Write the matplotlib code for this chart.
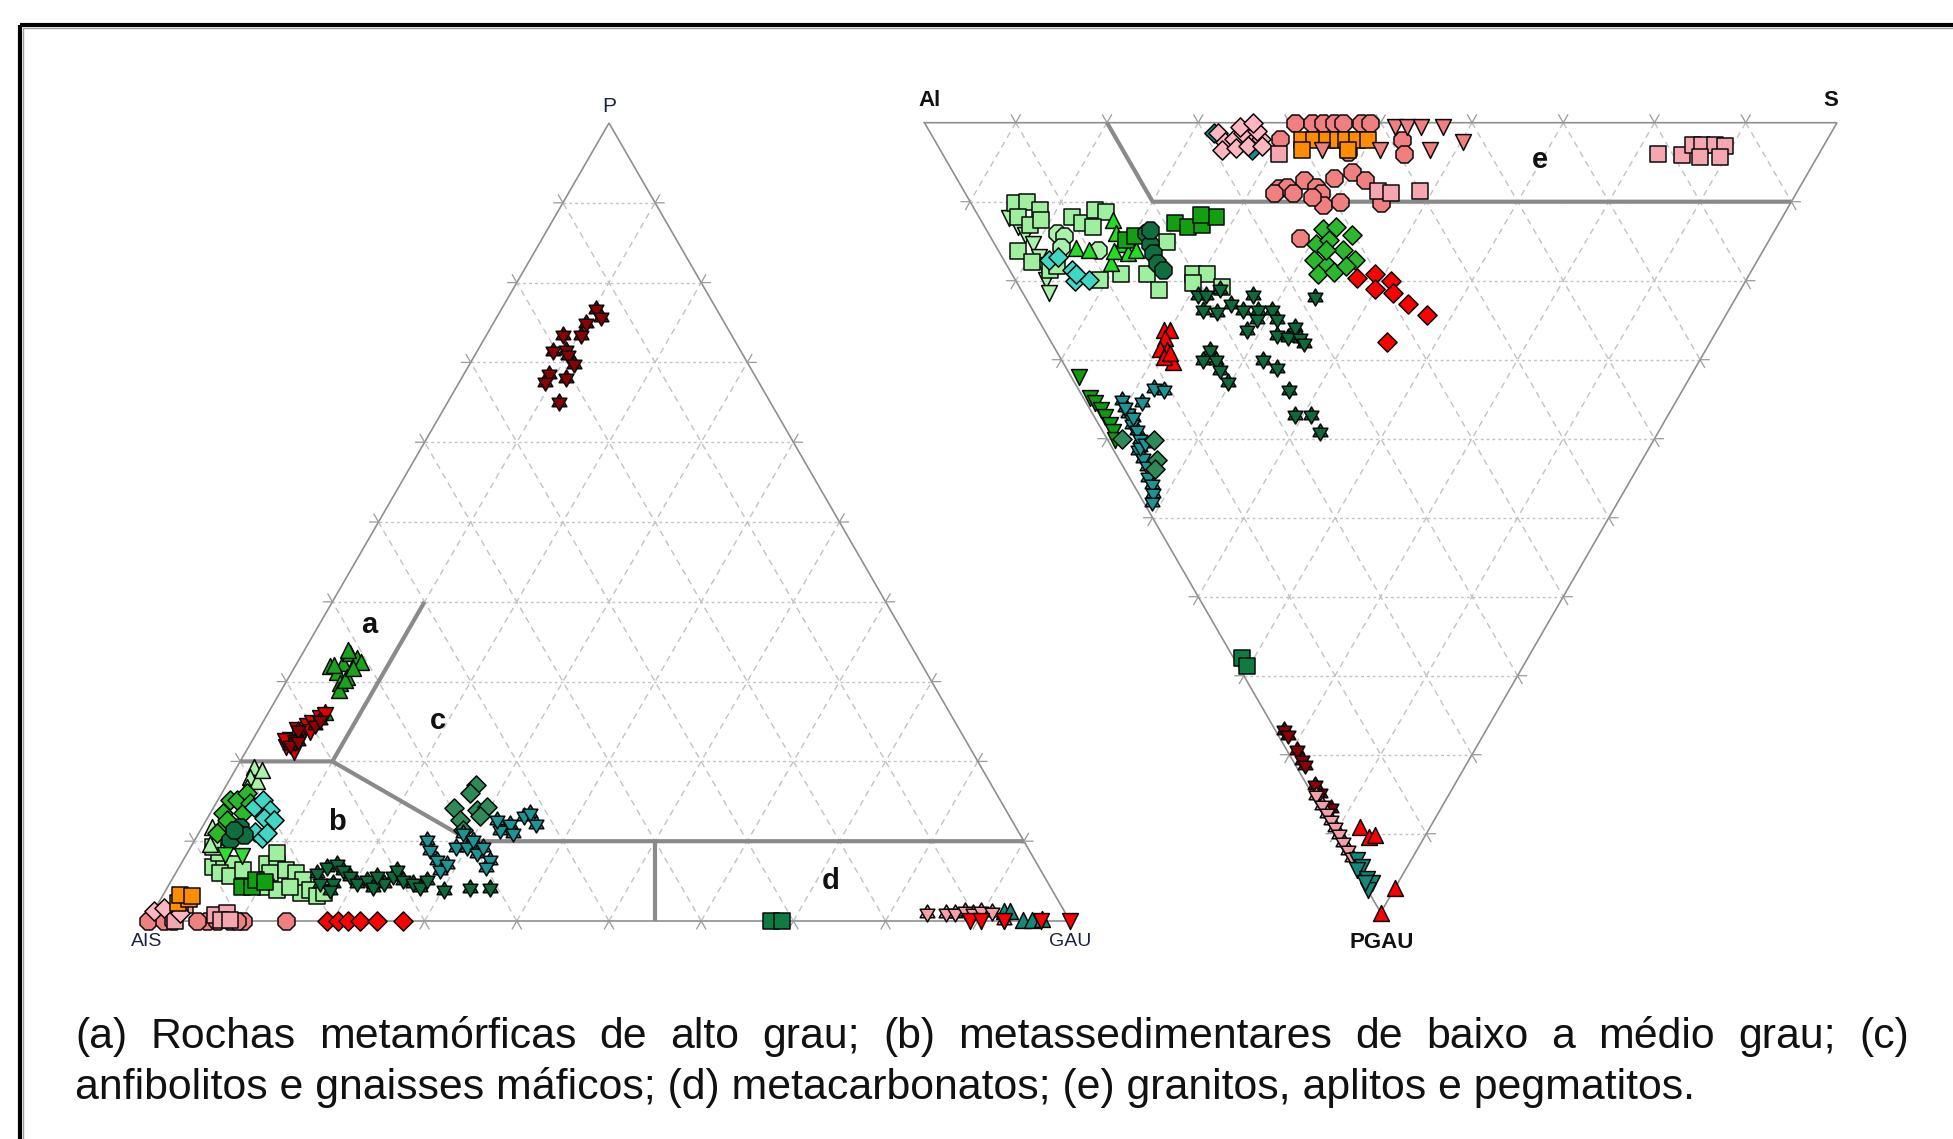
import numpy as np
import matplotlib
matplotlib.use("Agg")
import matplotlib.pyplot as plt
from matplotlib.path import Path
from matplotlib.patches import Rectangle

plt.rcParams['font.family'] = ['Liberation Sans', 'DejaVu Sans']

# ======================= DATA =======================
# Left diagram (P - AIS - GAU): pairs (P %, GAU %), AIS = 100 - P - GAU
L_darkred_star = [(76.7, 10.2), (75.7, 11.3), (74.9, 10.1), (73.4, 10.3), (73.4, 8.3), (71.4, 8.2),
                  (71.6, 9.5), (70.9, 10.1), (69.8, 11.3), (68.5, 9.2), (67.6, 9.3), (68.1, 11.3), (65.0, 12.1)]
L_darkred_star_a = [(22.0, 4.4), (23.9, 4.3), (24.6, 5.8), (22.6, 5.0), (25.2, 6.1)]
L_red_tri_down = [(21.8, 4.1), (21.2, 5.2), (22.7, 4.1), (23.1, 4.9), (23.9, 4.2), (24.4, 5.0), (23.5, 5.1),
                  (24.8, 5.4), (25.4, 6.0), (25.8, 6.3), (23.7, 5.7), (22.5, 3.6), (22.3, 4.8)]
L_green_tri_up = [(31.9, 3.8), (31.2, 4.9), (32.3, 5.0), (33.6, 5.1), (32.9, 6.2), (32.5, 6.8), (30.6, 6.3),
                  (29.8, 5.9), (29.0, 6.2), (30.2, 6.3), (31.7, 6.4), (32.1, 4.1), (34.0, 4.7), (26.2, 6.1)]
L_lightgreen_tri_up = [(19.3, 1.9), (18.1, 2.0), (17.5, 3.1), (16.8, 2.3), (11.8, 1.0), (9.7, 1.9), (18.9, 2.9)]
L_green_diamond = [(11.4, 2.1), (15.2, 1.3), (15.2, 2.0), (13.5, 3.6), (13.5, 1.4), (12.7, 2.2), (16.0, 2.7),
                   (11.0, 2.0), (14.8, 3.7)]
L_cyan_diamond = [(14.3, 4.3), (15.2, 4.9), (13.9, 6.3), (12.9, 6.1), (12.7, 7.3), (11.2, 6.0), (10.4, 7.2), (11.0, 7.4)]
L_darkgreen_circle = [(11.8, 4.1), (11.0, 4.1), (10.2, 3.8), (10.8, 5.0), (11.4, 3.6)]
L_lightgreen_square = [(6.8, 3.7), (7.2, 4.6), (7.2, 5.6), (6.0, 4.8), (5.6, 6.1), (6.4, 7.1), (7.2, 9.3), (7.2, 10.4),
                       (6.0, 10.2), (4.3, 10.7), (3.9, 12.0), (6.4, 11.8), (6.0, 13.1), (5.1, 14.3), (3.5, 14.8),
                       (3.9, 15.6), (3.1, 16.8), (3.5, 17.3), (4.3, 13.3), (8.5, 3.4), (9.3, 2.4), (8.5, 9.7)]
L_green_square = [(4.3, 8.0), (4.3, 9.1), (5.1, 9.2), (4.9, 10.2)]
L_brightgreen_tri_down = [(8.3, 4.2), (8.1, 6.1)]
L_darkgreen_star = [(6.0, 15.3), (6.8, 16.0), (7.2, 16.9), (6.4, 18.0), (5.6, 19.1), (4.7, 17.7), (4.7, 20.3),
                    (5.1, 21.2), (4.3, 22.3), (4.7, 23.2), (5.6, 23.8), (6.4, 23.8), (5.1, 25.1), (4.7, 26.4),
                    (4.3, 27.4), (5.1, 27.7), (3.9, 30.1), (4.1, 32.9), (4.1, 35.0), (4.7, 16.3), (3.9, 17.8), (5.6, 22.0)]
L_teal_star = [(10.2, 25.2), (8.9, 26.1), (7.6, 27.5), (6.4, 28.5), (7.2, 28.8), (9.3, 28.8), (9.3, 29.9), (8.5, 31.4),
               (9.3, 31.7), (7.6, 33.3), (6.8, 33.3), (11.0, 28.7), (11.4, 32.5), (12.2, 33.2), (13.1, 34.2),
               (13.5, 34.7), (12.2, 36.0), (11.0, 34.1), (12.7, 31.5), (10.2, 30.2)]
L_seagreen_diamond = [(17.0, 27.1), (16.0, 26.9), (14.1, 26.1), (12.7, 27.5), (13.9, 28.7), (14.3, 29.6),
                      (11.4, 28.5), (13.1, 29.5)]
L_orange_square = [(2.2, 2.2), (2.8, 3.0), (3.3, 1.8), (3.1, 3.2)]
L_pink_square = [(2.0, 3.0), (2.2, 2.4), (0.8, 6.9), (1.0, 8.1), (0.1, 7.9), (0.1, 8.8), (0.0, 2.9)]
L_salmon_circle = [(0.0, 0.0), (0.0, 1.7), (0.0, 2.7), (0.0, 6.4), (0.0, 7.5), (0.0, 8.9), (0.0, 10.3),
                   (0.0, 15.0), (0.0, 9.6), (0.0, 5.3)]
L_pink_diamond = [(1.2, 0.0), (1.6, 0.9), (1.0, 3.0)]
L_red_diamond = [(0.0, 19.4), (0.0, 20.6), (0.0, 21.7), (0.0, 23.0), (0.0, 24.8), (0.0, 27.7)]
L_darkgreen_square = [(0.0, 67.6), (0.0, 68.8)]
L_pink_star = [(1.0, 84.0), (1.0, 86.0), (1.0, 87.0), (1.2, 88.0), (1.0, 89.0), (1.2, 89.8), (1.1, 91.0), (0.1, 92.8)]
L_teal_tri_up = [(1.2, 92.2), (1.2, 92.9), (0.1, 94.9), (0.1, 95.8), (0.3, 96.8)]
L_red_tri_down_g = [(0.0, 89.2), (0.0, 90.4), (0.0, 92.8), (0.0, 96.9), (0.0, 100.0)]

# Right diagram (Al - S - PGAU): pairs (S %, PGAU %), Al = 100 - S - PGAU
R_pink_diamond = [(31.5, 1.3), (31.7, 2.4), (32.9, 2.0), (34.2, 1.3), (34.7, 2.4), (35.9, 2.0), (35.9, 1.1),
                  (30.8, 3.5), (32.5, 3.2), (34.0, 3.0), (35.5, 3.0), (34.3, 0.5), (36.0, 0.1)]
R_teal_diamond = [(31.1, 1.3), (34.1, 3.5)]
R_salmon_circle = [(40.6, 0.0), (42.5, 0.0), (43.7, 0.0), (44.9, 0.0), (45.9, 0.0), (47.8, 0.0), (48.8, 0.0),
                   (38.0, 2.0), (51.2, 2.2), (50.6, 3.9), (44.6, 3.7), (34.7, 8.3), (35.7, 8.1), (37.9, 7.3),
                   (38.9, 8.1), (39.0, 8.9), (41.4, 7.0), (43.7, 6.2), (44.6, 7.3), (38.5, 10.4), (40.5, 10.0),
                   (37.8, 9.4), (35.9, 8.9), (33.9, 8.9), (44.9, 10.2), (33.8, 14.6)]
R_orange_square = [(40.3, 2.2), (41.6, 2.2), (43.0, 2.2), (44.2, 2.2), (45.1, 2.2), (46.3, 2.2), (47.5, 2.2),
                   (39.6, 3.5), (44.7, 3.5)]
R_salmon_tri_down = [(51.3, 0.5), (52.6, 0.5), (54.2, 0.5), (56.6, 0.5), (57.8, 2.4), (53.7, 3.5), (48.2, 3.5), (41.8, 3.5)]
R_pink_square = [(78.4, 3.9), (81.0, 4.1), (82.8, 2.8), (83.8, 2.8), (85.2, 2.8), (86.2, 3.0), (82.8, 4.3), (85.0, 4.3),
                 (45.4, 8.7), (46.7, 8.9), (49.9, 8.7), (36.9, 3.9)]
R_lightgreen_square = [(4.8, 10.2), (6.2, 10.0), (7.1, 11.1), (4.3, 11.9), (5.1, 13.0), (6.6, 12.3), (2.1, 16.3),
                       (3.0, 17.6), (4.4, 18.7), (5.4, 18.2), (10.2, 11.9), (10.9, 12.7), (13.1, 11.1), (14.2, 11.3),
                       (11.9, 13.2), (12.0, 19.1), (14.8, 19.1), (15.1, 21.2), (19.0, 15.1), (19.9, 19.1),
                       (21.4, 19.1), (22.2, 20.8), (19.3, 20.3), (9.3, 19.9)]
R_lightgreen_tri_down = [(3.2, 12.1), (3.7, 13.2), (3.9, 14.2), (4.2, 15.3), (4.1, 17.0), (4.0, 18.0), (3.4, 19.9), (2.8, 21.6)]
R_lightgreen_circle = [(7.5, 14.0), (8.1, 14.4), (11.0, 16.1), (7.1, 15.7)]
R_cyan_diamond = [(4.9, 17.4), (6.1, 17.0), (6.8, 18.7), (6.4, 20.1), (8.1, 19.9), (7.0, 19.1)]
R_green_tri_up = [(8.6, 15.9), (10.0, 16.1), (14.5, 12.3), (14.0, 14.0), (13.9, 15.3), (14.1, 16.5), (11.5, 17.8),
                  (12.6, 16.3), (15.1, 16.1)]
R_green_square = [(21.1, 12.7), (22.3, 13.2), (23.9, 13.0), (26.0, 11.9), (24.4, 11.7), (14.6, 14.9), (15.9, 14.4)]
R_darkgreen_circle = [(17.3, 14.0), (17.1, 15.3), (16.8, 16.5), (16.6, 17.8), (16.8, 18.7), (17.9, 13.6)]
R_green_diamond = [(37.0, 13.4), (38.5, 13.2), (39.7, 14.2), (35.3, 15.3), (36.9, 14.9), (37.8, 16.1), (38.5, 17.4),
                   (34.0, 17.4), (35.1, 18.0), (33.6, 19.1), (35.4, 18.9), (37.1, 18.2), (36.0, 16.1)]
R_red_diamond = [(37.6, 19.7), (39.8, 19.1), (41.1, 20.1), (38.9, 21.0), (40.5, 21.6), (41.5, 22.9), (42.9, 24.3), (36.8, 27.7)]
R_darkgreen_star = [(19.1, 21.8), (20.0, 21.8), (21.9, 21.0), (18.7, 23.7), (20.1, 23.9), (22.1, 22.9), (23.1, 23.7),
                    (25.1, 21.8), (24.7, 23.7), (24.0, 24.8), (22.2, 26.2), (26.2, 23.7), (26.2, 24.8), (25.2, 26.9),
                    (26.3, 27.1), (27.7, 25.8), (27.5, 27.3), (27.6, 27.9), (31.8, 22.0), (16.9, 28.8), (15.5, 30.0),
                    (17.0, 30.0), (16.7, 31.3), (16.9, 32.8), (22.1, 30.0), (23.1, 31.1), (23.0, 33.8), (22.1, 37.0),
                    (23.9, 37.0), (23.8, 39.1)]
R_red_tri_up = [(13.1, 26.2), (13.8, 26.2), (12.7, 27.3), (11.5, 28.6), (12.2, 28.8), (12.1, 30.3), (11.4, 29.6), (12.3, 29.2)]
R_green_tri_down = [(0.8, 32.2), (0.7, 34.9), (0.9, 35.5), (1.1, 36.4), (1.2, 37.2), (1.2, 38.3), (1.1, 39.1), (0.8, 40.2)]
R_teal_star = [(4.1, 35.1), (3.9, 36.8), (4.0, 36.0), (3.7, 38.1), (3.8, 38.9), (3.6, 40.0), (2.7, 41.4), (2.7, 42.5),
               (2.6, 43.5), (2.1, 44.8), (2.1, 45.7), (1.6, 46.9), (0.9, 48.0), (6.2, 35.3), (8.3, 33.6),
               (9.3, 33.8), (4.3, 37.2), (3.1, 41.0), (3.9, 40.6)]
R_seagreen_diamond = [(5.0, 40.2), (4.1, 42.7), (3.4, 43.8), (1.6, 40.0)]
R_darkgreen_square = [(0.9, 67.8), (0.9, 68.8)]
R_darkred_star = [(0.9, 76.9), (1.1, 77.5), (1.1, 79.4), (1.0, 80.7), (1.1, 81.3), (0.9, 83.8), (0.9, 84.9), (1.1, 86.8)]
R_pink_star = [(0.4, 85.1), (0.4, 86.4), (0.4, 87.4), (0.4, 88.3), (0.4, 89.1), (0.4, 90.0), (0.4, 91.0), (0.4, 92.1), (0.4, 92.9)]
R_teal_tri_down = [(0.7, 93.3), (0.8, 94.2), (0.1, 94.6), (0.6, 95.7), (0.9, 96.3), (0.1, 97.1), (0.1, 96.3)]
R_red_tri_up2 = [(3.2, 89.1), (3.5, 90.4), (4.3, 90.2), (3.1, 96.9), (0.0, 100.0)]

# field boundaries: left in (P %, GAU %), right in (S %, PGAU %)
left_boundaries = [[(20, 0), (20, 10), (40, 10)], [(20, 10), (10, 30), (10, 90)], [(10, 50), (0, 55)]]
right_boundaries = [[(20, 0), (20, 10), (90, 10)]]

left_vertex_labels = ["P", "AIS", "GAU"]
right_vertex_labels = ["Al", "S", "PGAU"]
caption_line1 = "(a) Rochas metamórficas de alto grau; (b) metassedimentares de baixo a médio grau; (c)"
caption_line2 = "anfibolitos e gnaisses máficos; (d) metacarbonatos; (e) granitos, aplitos e pegmatitos."

# ======================= LAYOUT =======================
W, H = 1953, 1139
fig = plt.figure(figsize=(W / 100, H / 100), dpi=100)
ax = fig.add_axes([0, 0, 1, 1])
ax.set_xlim(0, W)
ax.set_ylim(H, 0)
ax.axis('off')

# corner pixel positions: A (first), B, C
LEFT = {'A': (148.0, 921.0), 'B': (1070.0, 921.0), 'C': (609.0, 123.0)}     # AIS, GAU, P
RIGHT = {'A': (924.5, 122.7), 'B': (1837.0, 122.7), 'C': (1380.7, 912.7)}   # Al, S, PGAU


def bary(tri, a, b, c):
    A, B, C = tri['A'], tri['B'], tri['C']
    return (a * A[0] + b * B[0] + c * C[0], a * A[1] + b * B[1] + c * C[1])


def to_xy(tri, b, c):
    b = np.asarray(b, float) / 100.0
    c = np.asarray(c, float) / 100.0
    return bary(tri, 1 - b - c, b, c)


GRID_C = '#c2c2c2'
EDGE_C = '#8f8f8f'


def draw_frame(tri):
    for k in range(1, 10):
        f = k / 10
        p1 = bary(tri, 1 - f, 0, f); p2 = bary(tri, 0, 1 - f, f)
        ax.plot([p1[0], p2[0]], [p1[1], p2[1]], color=GRID_C, lw=1.0, dashes=(2, 2.2), zorder=1)
        p1 = bary(tri, 1 - f, f, 0); p2 = bary(tri, 0, f, 1 - f)
        ax.plot([p1[0], p2[0]], [p1[1], p2[1]], color=GRID_C, lw=1.0, dashes=(4.5, 3.5), zorder=1)
        p1 = bary(tri, f, 1 - f, 0); p2 = bary(tri, f, 0, 1 - f)
        ax.plot([p1[0], p2[0]], [p1[1], p2[1]], color=GRID_C, lw=1.0, dashes=(4.5, 3.5), zorder=1)
    A, B, C = [np.array(tri[k]) for k in 'ABC']
    ax.plot([A[0], B[0], C[0], A[0]], [A[1], B[1], C[1], A[1]], color=EDGE_C, lw=1.2, zorder=2,
            solid_joinstyle='miter')
    G = (A + B + C) / 3
    for P1, P2 in [(A, B), (B, C), (C, A)]:
        d = P2 - P1
        n = np.array([d[1], -d[0]]) / np.hypot(*d)
        mid = (P1 + P2) / 2
        if np.dot(n, mid - G) < 0:
            n = -n
        for k in range(1, 10):
            p = P1 + d * k / 10
            for ang in (np.pi / 6, -np.pi / 6):
                ca, sa = np.cos(ang), np.sin(ang)
                v = np.array([ca * n[0] - sa * n[1], sa * n[0] + ca * n[1]]) * 9
                ax.plot([p[0], p[0] + v[0]], [p[1], p[1] + v[1]], color='#9a9a9a', lw=0.9, zorder=2)


draw_frame(LEFT)
draw_frame(RIGHT)

for seg in left_boundaries:
    pg = np.array(seg, float)
    x, y = to_xy(LEFT, pg[:, 1], pg[:, 0])
    ax.plot(x, y, color='#8a8a8a', lw=3.0, zorder=2.5, solid_capstyle='butt')
for seg in right_boundaries:
    sp = np.array(seg, float)
    x, y = to_xy(RIGHT, sp[:, 0], sp[:, 1])
    ax.plot(x, y, color='#8a8a8a', lw=3.0, zorder=2.5, solid_capstyle='butt')

STAR_UP = Path([(0, 1), (-0.866, -0.5), (0.866, -0.5), (0, 1)],
               [Path.MOVETO, Path.LINETO, Path.LINETO, Path.CLOSEPOLY])
STAR_DN = Path([(0, -1), (-0.866, 0.5), (0.866, 0.5), (0, -1)],
               [Path.MOVETO, Path.LINETO, Path.LINETO, Path.CLOSEPOLY])

zc = [3]
EC = '#0a0a0a'
ELW = 1.1


def draw(tri, pts, marker, color, size, left=True):
    arr = np.array(pts, float)
    if left:
        x, y = to_xy(tri, arr[:, 1], arr[:, 0])
    else:
        x, y = to_xy(tri, arr[:, 0], arr[:, 1])
    zc[0] += 0.01
    if marker == 'star':
        ax.scatter(x, y, marker=STAR_UP, s=size, c=color, edgecolors=EC, linewidths=ELW, zorder=zc[0])
        ax.scatter(x, y, marker=STAR_DN, s=size, c=color, edgecolors=EC, linewidths=ELW, zorder=zc[0] + 0.001)
    else:
        ax.scatter(x, y, marker=marker, s=size, c=color, edgecolors=EC, linewidths=ELW, zorder=zc[0])


SQ, DI, CI, TR, ST = 140, 95, 175, 130, 150

left_series = [
    (L_salmon_circle, '8', '#f08080', CI), (L_pink_square, 's', '#f6a6ae', SQ), (L_pink_diamond, 'D', '#ffb6c1', DI),
    (L_orange_square, 's', '#ff8c00', SQ), (L_red_diamond, 'D', '#ff0000', DI),
    (L_lightgreen_square, 's', '#9ef09e', SQ), (L_green_square, 's', '#10a010', SQ),
    (L_lightgreen_tri_up, '^', '#aaf2aa', TR), (L_green_diamond, 'D', '#2cb82c', DI),
    (L_cyan_diamond, 'D', '#3fd8c6', DI), (L_darkgreen_circle, '8', '#0f6e3f', CI),
    (L_brightgreen_tri_down, 'v', '#2ee02e', TR), (L_darkgreen_star, 'star', '#0b6b3a', ST),
    (L_seagreen_diamond, 'D', '#2e8b57', DI), (L_teal_star, 'star', '#1a9696', ST),
    (L_green_tri_up, '^', '#1ca31c', TR), (L_red_tri_down, 'v', '#e00000', TR),
    (L_darkred_star_a, 'star', '#8b0000', ST), (L_darkred_star, 'star', '#8b0000', ST),
    (L_darkgreen_square, 's', '#0c7c40', SQ), (L_pink_star, 'star', '#f4a0a8', ST),
    (L_teal_tri_up, '^', '#13897a', TR), (L_red_tri_down_g, 'v', '#ff0000', TR),
]
for pts, m, c, s in left_series:
    draw(LEFT, pts, m, c, s, left=True)

right_series = [
    (R_teal_diamond, 'D', '#138f8f', DI), (R_pink_diamond, 'D', '#ffb6c1', DI),
    (R_salmon_circle, '8', '#f08080', CI), (R_orange_square, 's', '#ff8c00', SQ),
    (R_salmon_tri_down, 'v', '#f08080', TR), (R_pink_square, 's', '#f6a6ae', SQ),
    (R_lightgreen_tri_down, 'v', '#aaf2aa', TR), (R_lightgreen_square, 's', '#9ef09e', SQ),
    (R_lightgreen_circle, '8', '#aaf2aa', CI), (R_cyan_diamond, 'D', '#3fd8c6', DI),
    (R_green_tri_up, '^', '#22dd22', TR), (R_green_square, 's', '#10a010', SQ),
    (R_darkgreen_circle, '8', '#0f6e3f', CI), (R_green_diamond, 'D', '#2cb82c', DI),
    (R_red_diamond, 'D', '#ff0000', DI), (R_darkgreen_star, 'star', '#0b6b3a', ST),
    (R_red_tri_up, '^', '#ff0000', TR), (R_green_tri_down, 'v', '#119911', TR),
    (R_teal_star, 'star', '#1a9696', ST), (R_seagreen_diamond, 'D', '#2e8b57', DI),
    (R_darkgreen_square, 's', '#0c7c40', SQ), (R_darkred_star, 'star', '#8b0000', ST),
    (R_pink_star, 'star', '#f4a0a8', ST), (R_teal_tri_down, 'v', '#13897a', TR),
    (R_red_tri_up2, '^', '#ff0000', TR),
]
for pts, m, c, s in right_series:
    draw(RIGHT, pts, m, c, s, left=False)

# vertex labels
lab_c = '#1c2340'
ax.text(609, 106, left_vertex_labels[0], fontsize=15, ha='center', va='center', color=lab_c)
ax.text(147, 942, left_vertex_labels[1], fontsize=14, ha='center', va='center', color=lab_c)
ax.text(1070, 942, left_vertex_labels[2], fontsize=14, ha='center', va='center', color=lab_c)
ax.text(930, 101, right_vertex_labels[0], fontsize=16, ha='center', va='center', fontweight='bold', color='#111111')
ax.text(1831, 100, right_vertex_labels[1], fontsize=16, ha='center', va='center', fontweight='bold', color='#111111')
ax.text(1382, 943, right_vertex_labels[2], fontsize=16, ha='center', va='center', fontweight='bold', color='#111111')

# field labels
for lab, (x, y) in zip(['a', 'b', 'c', 'd', 'e'],
                       [(369, 625), (337, 822), (438, 721), (831, 881), (1540, 160)]):
    ax.text(x, y, lab, fontsize=21, ha='center', va='center', fontweight='bold', color='#111111')

# outer frame
ax.add_patch(Rectangle((19.5, 25), 1990, 1150, fill=False, ec='black', lw=3.0, zorder=10))
ax.add_patch(Rectangle((22.8, 28.3), 1990, 1150, fill=False, ec='#a0a0a0', lw=1.0, zorder=10))

# caption, justified first line
fig.canvas.draw()
r = fig.canvas.get_renderer()
t = ax.text(0, 0, caption_line2, fontsize=20)
w = t.get_window_extent(r).width
t.remove()
fs = 20 * 1615.0 / w
x0, x1 = 75.0, 1909.0
ax.text(x0, 1099, caption_line2, fontsize=fs, ha='left', va='baseline', color='#111111')
words = caption_line1.split(' ')
tw = []
for wd in words:
    tt = ax.text(0, 0, wd, fontsize=fs)
    tw.append(tt.get_window_extent(r).width)
    tt.remove()
gap = (x1 - x0 - sum(tw)) / (len(words) - 1)
xx = x0
for wd, wi in zip(words, tw):
    ax.text(xx, 1048, wd, fontsize=fs, ha='left', va='baseline', color='#111111')
    xx += wi + gap

fig.savefig('out.png', dpi=100)
